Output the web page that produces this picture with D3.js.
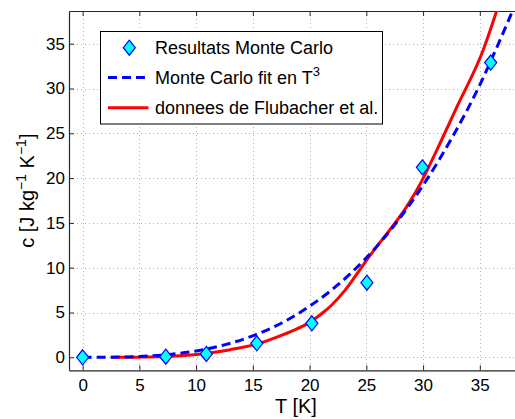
<!DOCTYPE html>
<html>
<head>
<meta charset="utf-8">
<script src="https://cdn.jsdelivr.net/npm/d3@7"></script>
<style>
  body { margin: 0; background: #fff; }
  svg { display: block; font-family: "Liberation Sans", Arial, Helvetica, sans-serif; }
</style>
</head>
<body>
<svg id="chart" width="515" height="419"></svg>
<script>
// Monte Carlo results (diamonds)
const mcT = [0, 7.33, 10.9, 15.35, 20.2, 25.05, 29.94, 35.96];
const mcC = [0, 0.07, 0.37, 1.56, 3.8, 8.33, 21.2, 32.9];

// Monte Carlo fit in T^3 (dashed)
const fitT = [0, 2.5, 5, 7.5, 10, 12.5, 15, 17.5, 20, 22.5, 25, 27.5, 30, 32.5, 35, 36.5, 38.5];
const fitC = [0, 0.01, 0.09, 0.3, 0.71, 1.39, 2.4, 3.8, 5.7, 8.1, 11.1, 14.8, 19.2, 24.4, 30.4, 34.6, 40.5];

// Flubacher et al. data (solid red)
const flT = [2.5, 5, 7.3, 9, 11, 13, 15.4, 17, 18.6, 20, 21, 22, 23, 24, 25, 26, 27, 28.5, 29.6, 31.2, 33, 35.3, 36.7];
const flC = [0, 0.02, 0.08, 0.2, 0.45, 0.85, 1.5, 2.2, 3.0, 3.9, 4.8, 5.9, 7.3, 9.0, 10.8, 12.5, 14.1, 16.7, 19.0, 23.1, 28.0, 34.3, 39.5];

const xTicks = [0, 5, 10, 15, 20, 25, 30, 35];
const yTicks = [0, 5, 10, 15, 20, 25, 30, 35];

const legendLabels = ["Resultats Monte Carlo", "Monte Carlo fit en T", "donnees de Flubacher et al."];

const svg = d3.select("#chart");
const pLeft = 69, pRight = 515, pTop = 11, pBottom = 370.3;
const axisColor = "#262626";

const x = d3.scaleLinear().domain([-1.2, 38.1]).range([pLeft, pRight]);
const y = d3.scaleLinear().domain([-1.45, 38.65]).range([pBottom, pTop]);

// clip for the data lines
svg.append("defs").append("clipPath").attr("id", "plotArea")
  .append("rect").attr("x", pLeft).attr("y", pTop)
  .attr("width", pRight - pLeft).attr("height", pBottom - pTop);

// grid
const grid = svg.append("g")
  .attr("stroke", "#b4b4b4")
  .attr("stroke-width", 1)
  .attr("stroke-dasharray", "1,3");
grid.selectAll("line.gx").data(xTicks).join("line")
  .attr("class", "gx")
  .attr("x1", d => Math.round(x(d)) + 0.5).attr("x2", d => Math.round(x(d)) + 0.5)
  .attr("y1", pTop).attr("y2", pBottom);
grid.selectAll("line.gy").data(yTicks).join("line")
  .attr("class", "gy")
  .attr("y1", d => Math.round(y(d)) + 0.5).attr("y2", d => Math.round(y(d)) + 0.5)
  .attr("x1", pLeft).attr("x2", pRight);

// axes (ticks pointing inward, MATLAB style)
const xAxis = svg.append("g")
  .attr("transform", `translate(0,${pBottom})`)
  .call(d3.axisBottom(x).tickValues(xTicks).tickSize(-5).tickPadding(9).tickSizeOuter(0));
const xTop = svg.append("g")
  .attr("transform", `translate(0,${pTop})`)
  .call(d3.axisTop(x).tickValues(xTicks).tickSize(-5).tickSizeOuter(0).tickFormat(""));
const yAxis = svg.append("g")
  .attr("transform", `translate(${pLeft},0)`)
  .call(d3.axisLeft(y).tickValues(yTicks).tickSize(-5).tickPadding(4).tickSizeOuter(0));

[xAxis, xTop, yAxis].forEach(g => {
  g.select(".domain").attr("stroke", axisColor).attr("stroke-width", 1.2);
  g.selectAll(".tick line").attr("stroke", axisColor);
  g.selectAll(".tick text")
    .attr("fill", "#000")
    .style("font-size", "17px")
    .style("font-family", "'Liberation Sans', Arial, sans-serif");
});

// lines
const line = d3.line()
  .x(d => x(d[0]))
  .y(d => y(d[1]))
  .curve(d3.curveMonotoneX);

const plot = svg.append("g").attr("clip-path", "url(#plotArea)");

plot.append("path")
  .datum(flT.map((t, i) => [t, flC[i]]))
  .attr("d", line)
  .attr("fill", "none")
  .attr("stroke", "#ff0000")
  .attr("stroke-width", 3);

plot.append("path")
  .datum(fitT.map((t, i) => [t, fitC[i]]))
  .attr("d", line)
  .attr("fill", "none")
  .attr("stroke", "#0000ff")
  .attr("stroke-width", 3)
  .attr("stroke-dasharray", "9,5");

// diamonds
const diamond = (cx, cy) => `M${cx},${cy - 7.5}L${cx + 6},${cy}L${cx},${cy + 7.5}L${cx - 6},${cy}Z`;

svg.append("g").selectAll("path")
  .data(mcT.map((t, i) => [t, mcC[i]]))
  .join("path")
  .attr("d", d => diamond(x(d[0]), y(d[1])))
  .attr("fill", "#00ffff")
  .attr("stroke", "#0000ff")
  .attr("stroke-width", 1.2);

// axis labels
svg.append("text")
  .attr("x", 296)
  .attr("y", 412.5)
  .attr("text-anchor", "middle")
  .style("font-size", "20px")
  .text("T [K]");

const yl = svg.append("text")
  .attr("transform", `translate(34,${(pTop + pBottom) / 2}) rotate(-90)`)
  .attr("text-anchor", "middle")
  .style("font-size", "20px");
yl.append("tspan").text("c [J kg");
yl.append("tspan").attr("dy", -8).style("font-size", "14px").text("\u22121");
yl.append("tspan").attr("dy", 8).text(" K");
yl.append("tspan").attr("dy", -8).style("font-size", "14px").text("\u22121");
yl.append("tspan").attr("dy", 8).text("]");

// legend
const lg = svg.append("g");
lg.append("rect")
  .attr("x", 100.5).attr("y", 31.5)
  .attr("width", 282).attr("height", 92.5)
  .attr("fill", "#fff")
  .attr("stroke", "#000")
  .attr("stroke-width", 1);

const rowY = [47.7, 77.5, 107.7];

lg.append("path")
  .attr("d", diamond(129.3, rowY[0]))
  .attr("fill", "#00ffff")
  .attr("stroke", "#0000ff")
  .attr("stroke-width", 1.2);
lg.append("line")
  .attr("x1", 108).attr("x2", 148.5)
  .attr("y1", rowY[1]).attr("y2", rowY[1])
  .attr("stroke", "#0000ff").attr("stroke-width", 3)
  .attr("stroke-dasharray", "9,5");
lg.append("line")
  .attr("x1", 108).attr("x2", 148.5)
  .attr("y1", rowY[2]).attr("y2", rowY[2])
  .attr("stroke", "#ff0000").attr("stroke-width", 3);

legendLabels.forEach((lab, i) => {
  const t = lg.append("text")
    .attr("x", 155)
    .attr("y", rowY[i] + 6.3)
    .style("font-size", "18px")
    .text(lab);
  if (i === 1) {
    t.append("tspan").attr("dy", -8).style("font-size", "13px").text("3");
  }
});
</script>
</body>
</html>
